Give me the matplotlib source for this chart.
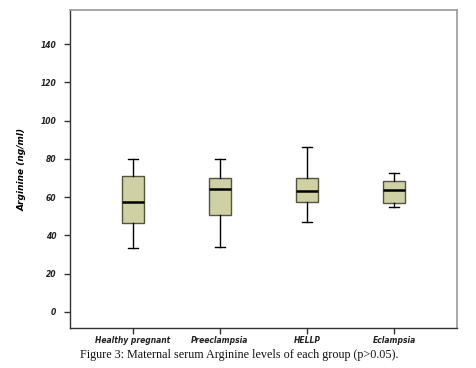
import matplotlib
matplotlib.use("Agg")
import matplotlib.pyplot as plt

categories = ["Healthy pregnant", "Preeclampsia", "HELLP", "Eclampsia"]
whisker_low = [33.2, 33.7, 46.8, 54.6]
q1 = [46.3, 50.5, 57.3, 57.1]
median = [57.3, 64.1, 63.4, 63.7]
q3 = [71.2, 69.9, 69.9, 68.4]
whisker_high = [79.7, 79.9, 86.0, 72.6]
yticks = [0, 20, 40, 60, 80, 100, 120, 140]

stats = []
for i, c in enumerate(categories):
    stats.append(dict(label=c, whislo=whisker_low[i], q1=q1[i], med=median[i],
                      q3=q3[i], whishi=whisker_high[i], fliers=[]))

fig = plt.figure(figsize=(4.77, 3.68), dpi=100)
ax = fig.add_axes([70/477, 1-328/368, 387/477, 318/368])

positions = [1, 2, 3, 4]
ax.bxp(stats, positions=positions, widths=0.253, patch_artist=True,
       showfliers=False, capwidths=0.125,
       boxprops=dict(facecolor="#cfd0a3", edgecolor="#55553f", linewidth=1.0),
       medianprops=dict(color="black", linewidth=1.8),
       whiskerprops=dict(color="black", linewidth=1.0),
       capprops=dict(color="black", linewidth=1.0))

ax.set_xlim(0.276, 4.724)
ax.set_ylim(-8.4, 157.8)
ax.set_yticks(yticks)
ax.set_yticklabels([str(v) for v in yticks], fontsize=5.5, fontstyle="italic",
                   fontweight="bold", color="#222222")
ax.set_xticks(positions)
ax.set_xticklabels(categories, fontsize=5.5, fontstyle="italic",
                   fontweight="bold", color="#222222")
ax.tick_params(axis="both", direction="out", length=4, width=1, color="#333333", pad=6)
ax.tick_params(axis="x", pad=2)

for s in ["left", "bottom"]:
    ax.spines[s].set_color("#333333")
    ax.spines[s].set_linewidth(1.0)
for s in ["top", "right"]:
    ax.spines[s].set_color("#999999")
    ax.spines[s].set_linewidth(1.2)

ax.set_ylabel("Arginine (ng/ml)", fontsize=6.5, fontstyle="italic",
              fontweight="bold", labelpad=10)

fig.text(239/477, 1-355/368, "Figure 3: Maternal serum Arginine levels of each group (p>0.05).",
         ha="center", va="center", fontsize=8.7, family="Liberation Serif", color="#111111")

fig.savefig("out.png", dpi=100)
